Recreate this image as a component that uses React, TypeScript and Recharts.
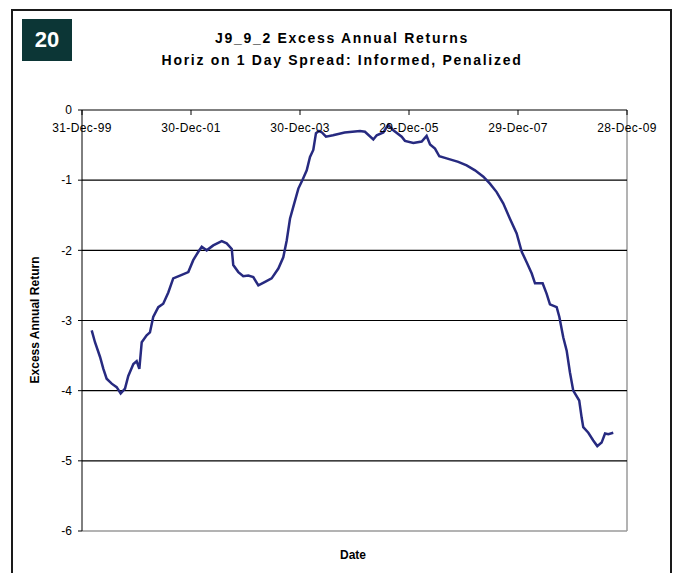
import { LineChart, Line, XAxis, YAxis, ReferenceLine } from "recharts";

// days counted from 31-Dec-1999
const DAYS = [
  65, 87, 121, 143, 165, 199, 232, 259, 288, 310, 344, 366, 384, 400, 433, 455, 477, 511, 544, 578,
  611, 656, 712, 745, 779, 802, 835, 879, 936, 969, 1003, 1013, 1047, 1080, 1114, 1147, 1181, 1226, 1270, 1315,
  1348, 1371, 1393, 1415, 1449, 1478, 1505, 1527, 1549, 1567, 1587, 1607, 1634, 1681, 1759, 1862, 1895, 1951, 1974, 2018,
  2051, 2085, 2141, 2163, 2219, 2275, 2308, 2331, 2364, 2393, 2442, 2520, 2576, 2632, 2688, 2732, 2777, 2821, 2866, 2911,
  2945, 2978, 3012, 3034, 3085, 3112, 3134, 3179, 3197, 3223, 3246, 3268, 3290, 3330, 3346, 3357, 3391, 3424, 3451, 3480,
  3503, 3525, 3558,
];

const EXCESS = [
  -3.14, -3.31, -3.52, -3.69, -3.83, -3.9, -3.95, -4.04, -3.97, -3.79, -3.62, -3.58, -3.69, -3.31, -3.21, -3.17, -2.95, -2.81, -2.76, -2.6,
  -2.4, -2.36, -2.31, -2.14, -2.02, -1.95, -2.0, -1.93, -1.87, -1.9, -1.98, -2.21, -2.31, -2.37, -2.36, -2.38, -2.5, -2.45, -2.4, -2.26,
  -2.1, -1.86, -1.55, -1.38, -1.12, -0.99, -0.86, -0.67, -0.57, -0.33, -0.3, -0.32, -0.38, -0.36, -0.32, -0.3, -0.31, -0.42, -0.36, -0.32,
  -0.21, -0.29, -0.38, -0.44, -0.47, -0.45, -0.37, -0.49, -0.55, -0.66, -0.69, -0.74, -0.79, -0.86, -0.95, -1.05, -1.17, -1.33, -1.55, -1.76,
  -2.02, -2.17, -2.33, -2.47, -2.47, -2.62, -2.77, -2.81, -2.95, -3.24, -3.43, -3.74, -4.0, -4.14, -4.38, -4.52, -4.6, -4.71, -4.79, -4.74,
  -4.61, -4.62, -4.6,
];

const X_TICKS = [0, 730, 1460, 2190, 2920, 3650];
const X_LABELS = ["31-Dec-99", "30-Dec-01", "30-Dec-03", "29-Dec-05", "29-Dec-07", "28-Dec-09"];
const Y_TICKS = [0, -1, -2, -3, -4, -5, -6];
const GRID_VALUES = [-1, -2, -3, -4, -5];

const data = DAYS.map((d, i) => ({ day: d, value: EXCESS[i] }));

const FONT = "'Liberation Sans', Arial, sans-serif";

// labels sit under the axis line (the axis line is the top edge, y = 0)
function TopTick(props: any) {
  const { x, y, payload } = props;
  const idx = X_TICKS.indexOf(payload.value);
  return (
    <g>
      <line x1={x} y1={y} x2={x} y2={y + 5} stroke="#000" />
      <text
        x={x}
        y={y + 22}
        textAnchor="middle"
        fontSize={12}
        letterSpacing={0.4}
        fontFamily={FONT}
        fill="#000"
      >
        {X_LABELS[idx]}
      </text>
    </g>
  );
}

export default function App() {
  return (
    <div style={{ position: "absolute", left: 0, top: 0, width: 675, height: 573, background: "#fff", overflow: "hidden" }}>
      <div
        style={{
          position: "absolute",
          left: 11,
          top: 9,
          width: 661,
          height: 620,
          border: "2px solid #1a1a1a",
          boxSizing: "border-box",
        }}
      />
      <div
        style={{
          position: "absolute",
          left: 22,
          top: 19,
          width: 50,
          height: 42,
          background: "#0c3636",
          color: "#fff",
          fontFamily: FONT,
          fontWeight: "bold",
          fontSize: 22,
          lineHeight: "42px",
          textAlign: "center",
        }}
      >
        20
      </div>
      <div
        style={{
          position: "absolute",
          left: 0,
          top: 27,
          width: 684,
          textAlign: "center",
          fontFamily: FONT,
          fontWeight: "bold",
          fontSize: 14,
          letterSpacing: 1.7,
          lineHeight: "22px",
          color: "#000",
        }}
      >
        <div>J9_9_2 Excess Annual Returns</div>
        <div>Horiz on 1 Day Spread: Informed, Penalized</div>
      </div>
      <div style={{ position: "absolute", left: 0, top: 0 }}>
        <LineChart width={675} height={573} data={data} margin={{ top: 90, right: 48, bottom: 42, left: 42 }}>
          <XAxis
            dataKey="day"
            type="number"
            orientation="top"
            domain={[0, 3650]}
            ticks={X_TICKS}
            height={20}
            tickSize={0}
            tickMargin={0}
            tick={<TopTick />}
            axisLine={false}
            tickLine={false}
            interval={0}
            allowDataOverflow
          />
          <YAxis
            type="number"
            domain={[-6, 0]}
            ticks={Y_TICKS}
            width={40}
            tickSize={4}
            tickMargin={6}
            interval={0}
            axisLine={{ stroke: "#000" }}
            tickLine={{ stroke: "#000" }}
            tick={{ fontSize: 12, fontFamily: FONT, fill: "#000" }}
          />
          <ReferenceLine y={-6} stroke="#9a9a9a" strokeWidth={1.5} />
          <ReferenceLine x={3650} stroke="#9a9a9a" strokeWidth={1.5} />
          {GRID_VALUES.map((v) => (
            <ReferenceLine key={v} y={v} stroke="#000" strokeWidth={1.2} />
          ))}
          <ReferenceLine y={0} stroke="#000" strokeWidth={1.2} />
          <Line
            type="linear"
            dataKey="value"
            stroke="#272a80"
            strokeWidth={2.5}
            dot={false}
            isAnimationActive={false}
          />
        </LineChart>
      </div>
      <div
        style={{
          position: "absolute",
          left: 35,
          top: 320,
          transform: "translate(-50%, -50%) rotate(-90deg)",
          whiteSpace: "nowrap",
          fontFamily: FONT,
          fontWeight: "bold",
          fontSize: 12,
          color: "#000",
        }}
      >
        Excess Annual Return
      </div>
      <div
        style={{
          position: "absolute",
          left: 353,
          top: 555,
          transform: "translate(-50%, -50%)",
          fontFamily: FONT,
          fontWeight: "bold",
          fontSize: 12,
          color: "#000",
        }}
      >
        Date
      </div>
    </div>
  );
}
